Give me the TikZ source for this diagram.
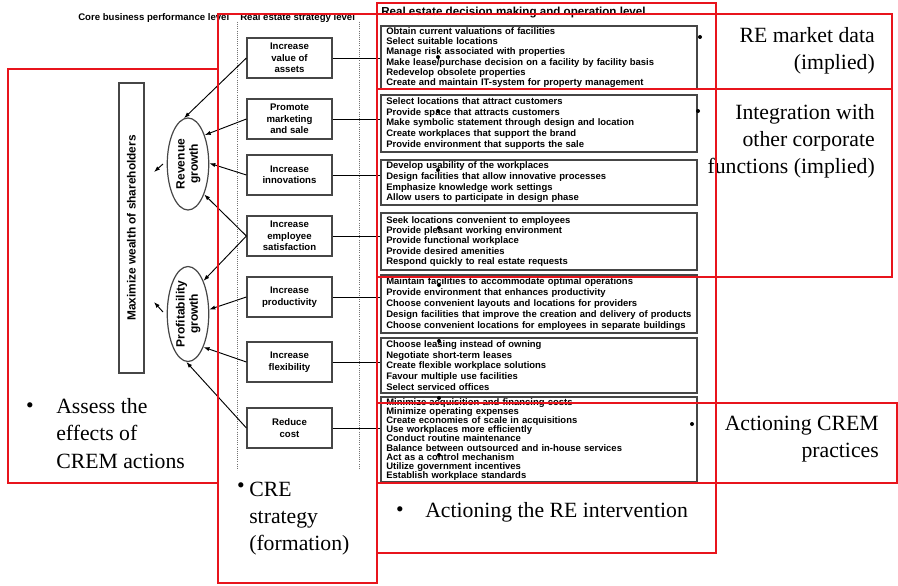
\documentclass[tikz,border=0pt]{standalone}
\usepackage{fontspec}
\setmainfont{Liberation Serif}
\setsansfont{Liberation Sans}
\usepackage{graphicx}
\usetikzlibrary{arrows.meta,shapes.geometric}
\definecolor{crem}{RGB}{232,20,28}
\definecolor{boxgray}{RGB}{70,70,70}
\hyphenpenalty=10000
\hbadness=10000
\hfuzz=20pt
\begin{document}
\begin{tikzpicture}[x=0.75pt,y=-0.75pt,
 redbox/.style={draw=crem,line width=2pt},
 stratbox/.style={draw=boxgray,line width=0.9pt,minimum width=63.75pt,minimum height=30pt,inner sep=1pt,align=center,font=\sffamily\bfseries\fontsize{7.2}{8.6}\selectfont},
 tbox/.style={draw=boxgray,line width=0.9pt,minimum width=237pt,text width=229pt,inner xsep=4pt,inner ysep=1pt,align=left},
 tbf/.style={font=\sffamily\bfseries\fontsize{7.1}{#1}\selectfont},
 ell/.style={ellipse,draw=boxgray,line width=0.9pt,inner sep=0pt,font=\sffamily\bfseries\fontsize{9}{12}\selectfont},
 arr/.style={-{Latex[length=4.5pt,width=3.2pt]},line width=0.7pt},
 link/.style={line width=0.7pt},
 big/.style={font=\fontsize{16.3}{20.3}\selectfont,inner sep=0pt},
 hdr/.style={font=\sffamily\bfseries\fontsize{7.2}{8}\selectfont,inner sep=0pt},
 dot/.style={circle,fill=black,inner sep=0pt,minimum size=3pt}
]
\useasboundingbox (0,0) rectangle (898,585);
\fill[white] (0,0) rectangle (898,585);

% headers
\node[hdr,anchor=west] (h1) at (78,18) {Core business performance level};
\node[hdr,anchor=west] (h2) at (240,18) {Real estate strategy level};
\node[hdr,font=\sffamily\bfseries\fontsize{8.7}{9}\selectfont,anchor=west] (h3) at (381,13) {Real estate decision making and operation level};

% dotted separators
\draw[densely dotted,black!55,line width=0.6pt] (237,22) -- (237,468);
\draw[densely dotted,black!55,line width=0.6pt] (359,22) -- (359,468);

% strategy boxes
\node[stratbox] (s1) at (289.5,58) {Increase\\value of\\assets};
\node[stratbox] (s2) at (289.5,119) {Promote\\marketing\\and sale};
\node[stratbox] (s3) at (289.5,175) {Increase\\innovations};
\node[stratbox] (s4) at (289.5,236) {Increase\\employee\\satisfaction};
\node[stratbox] (s5) at (289.5,297) {Increase\\productivity};
\node[stratbox] (s6) at (289.5,362) {Increase\\flexibility};
\node[stratbox] (s7) at (289.5,428) {Reduce\\cost};

% ellipses and top box
\node[ell,minimum width=29.25pt,minimum height=69pt] (rev) at (188,164)
  {\rotatebox{90}{\begin{tabular}{@{}c@{}}Revenue\\[-2pt]growth\end{tabular}}};
\node[ell,minimum width=30.75pt,minimum height=71.25pt] (prof) at (188,314)
  {\rotatebox{90}{\begin{tabular}{@{}c@{}}Profitability\\[-2pt]growth\end{tabular}}};
\node[draw=boxgray,line width=0.9pt,minimum width=18.75pt,minimum height=217.5pt,inner sep=0pt,
      font=\sffamily\bfseries\fontsize{8.9}{10}\selectfont] (max) at (131.5,228)
  {\rotatebox{90}{Maximize wealth of shareholders}};

% arrows strategy -> ellipses
\draw[arr] (s1.west) -- (rev.95);
\draw[arr] (s2.west) -- (rev.60);
\draw[arr] (s3.west) -- (rev.2);
\draw[arr] (s4.west) -- (rev.-62);
\draw[arr] (s4.west) -- (prof.65);
\draw[arr] (s5.west) -- (prof.12);
\draw[arr] (s6.west) -- (prof.-65);
\draw[arr] (s7.west) -- (prof.-92);

% small arrows towards the top box
\coordinate (m1s) at (163,164); \coordinate (m1e) at (154,172);
\coordinate (m2s) at (163,312); \coordinate (m2e) at (154,302);
\draw[arr] (m1s) -- (m1e);
\draw[arr] (m2s) -- (m2e);

% decision boxes
\node[tbox,tbf=7.7,minimum height=45.75pt] (t1) at (539,57.5) {Obtain current valuations of facilities\\Select suitable locations\\Manage risk associated with properties\\Make lease/purchase decision on a facility by facility basis\\Redevelop obsolete properties\\Create and maintain IT-system for property management};
\node[tbox,tbf=8.2,minimum height=42.75pt] (t2) at (539,123.5) {Select locations that attract customers\\Provide space that attracts customers\\Make symbolic statement through design and location\\Create workplaces that support the brand\\Provide environment that supports the sale};
\node[tbox,tbf=8,minimum height=33.75pt] (t3) at (539,182.5) {Develop usability of the workplaces\\Design facilities that allow innovative processes\\Emphasize knowledge work settings\\Allow users to participate in design phase};
\node[tbox,tbf=7.8,minimum height=42.75pt] (t4) at (539,241.5) {Seek locations convenient to employees\\Provide pleasant working environment\\Provide functional workplace\\Provide desired amenities\\Respond quickly to real estate requests};
\node[tbox,tbf=8.4,minimum height=43.5pt] (t5) at (539,304) {Maintain facilities to accommodate optimal operations\\Provide environment that enhances productivity\\Choose convenient layouts and locations for providers\\Design facilities that improve the creation and delivery of products\\Choose convenient locations for employees in separate buildings};
\node[tbox,tbf=8,minimum height=41.25pt] (t6) at (539,365.5) {Choose leasing instead of owning\\Negotiate short-term leases\\Create flexible workplace solutions\\Favour multiple use facilities\\Select serviced offices};
\node[tbox,tbf=6.9,minimum height=63.75pt] (t7) at (539,439.5) {Minimize acquisition and financing costs\\Minimize operating expenses\\Create economies of scale in acquisitions\\Use workplaces more efficiently\\Conduct routine maintenance\\Balance between outsourced and in-house services\\Act as a control mechanism\\Utilize government incentives\\Establish workplace standards};

% links strategy -> decision
\draw[link] (s1.east) -- (s1.east -| t1.west);
\draw[link] (s2.east) -- (s2.east -| t2.west);
\draw[link] (s3.east) -- (s3.east -| t3.west);
\draw[link] (s4.east) -- (s4.east -| t4.west);
\draw[link] (s5.east) -- (s5.east -| t5.west);
\draw[link] (s6.east) -- (s6.east -| t6.west);
\draw[link] (s7.east) -- (s7.east -| t7.west);

% stray dots
\node[dot] (d1) at (438,57) {};
\node[dot] (d2) at (438,111) {};
\node[dot] (d3) at (438,170) {};
\node[dot] (d4) at (439,228) {};
\node[dot] (d5) at (439,285) {};
\node[dot] (d6) at (439,341) {};
\node[dot] (d7) at (439,398) {};
\node[dot] (d8) at (439,455) {};
\node[dot] (d9) at (700,37) {};
\node[dot] (d10) at (698,111) {};
\node[dot] (d11) at (692,424) {};

% annotations
\node[big,align=right,anchor=east] (re) at (875,50.5) {RE market data\\(implied)};
\node[big,align=right,anchor=east] (integ) at (875,141) {Integration with\\other corporate\\functions (implied)};
\node[big,align=right,anchor=east] (acrem) at (879,439) {Actioning CREM\\practices};
\node[big] (b1) at (30,408) {\textbullet};
\node[big,align=left,anchor=west] (assess) at (56,433.5) {Assess the\\effects of\\CREM actions};
\node[big] (b2) at (241,488) {\textbullet};
\node[big,align=left,anchor=west] (cre) at (249,519) {CRE\\strategy\\(formation)};
\node[big] (b3) at (400,512) {\textbullet};
\node[big,anchor=west] (actre) at (425,512) {Actioning the RE intervention};

% red overlay frames
\draw[redbox] (8,69) rectangle (218,483);
\draw[redbox] (218,14) rectangle (377,583);
\draw[redbox] (377,3) rectangle (716,553);
\draw[redbox] (377,14) rectangle (892,277);
\draw[redbox] (377,89) -- (892,89);
\draw[redbox] (377,403) rectangle (897,483);
\end{tikzpicture}
\end{document}
